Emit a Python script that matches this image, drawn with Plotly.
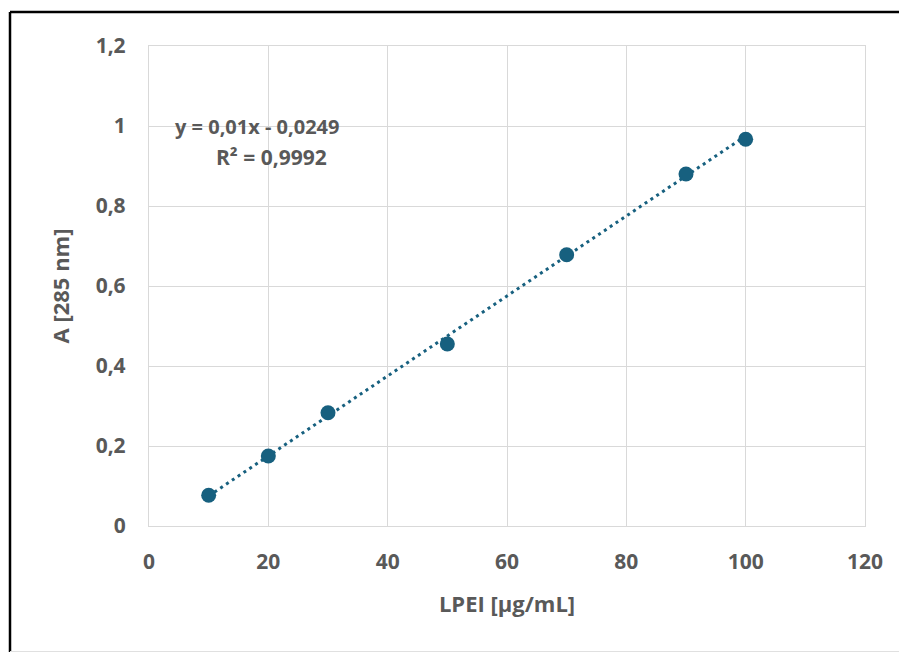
import plotly.graph_objects as go

conc = [10, 20, 30, 50, 70, 90, 100]
absorb = [0.077, 0.175, 0.283, 0.455, 0.678, 0.880, 0.967]
slope = 0.01
intercept = -0.0249
x_ticks = [0, 20, 40, 60, 80, 100, 120]
y_ticks = [0, 0.2, 0.4, 0.6, 0.8, 1.0, 1.2]
y_ticklabels = ["0", "0,2", "0,4", "0,6", "0,8", "1", "1,2"]

color = "#17607f"
gray = "#595959"
font = "Open Sans"

fit_x = [min(conc), max(conc)]
fit_y = [slope * v + intercept for v in fit_x]

fig = go.Figure()
fig.add_trace(go.Scatter(x=fit_x, y=fit_y, mode="lines",
                         line=dict(color=color, width=3, dash="3px,4px"),
                         hoverinfo="skip", showlegend=False))
fig.add_trace(go.Scatter(x=conc, y=absorb, mode="markers",
                         marker=dict(color=color, size=15),
                         showlegend=False))

axis_common = dict(showgrid=True, gridcolor="#d9d9d9", gridwidth=1.3,
                   showline=True, linecolor="#d9d9d9", linewidth=1.3, mirror=True,
                   zeroline=False, ticks="",
                   tickfont=dict(family=font, size=21, color=gray, weight="bold"))

fig.update_xaxes(range=[0, 120], tickvals=x_ticks,
                 ticktext=[str(v) for v in x_ticks], ticklabelstandoff=17,
                 title=dict(text="LPEI [µg/mL]", standoff=22,
                            font=dict(family=font, size=22, color=gray, weight="bold")),
                 **axis_common)
fig.update_yaxes(range=[0, 1.2], tickvals=y_ticks, ticktext=y_ticklabels,
                 ticklabelstandoff=18,
                 title=dict(text="A [285 nm]", standoff=19,
                            font=dict(family=font, size=22, color=gray, weight="bold")),
                 **axis_common)

# plot area in page pixels (reference): x 148..864, y 45..525
fig.add_annotation(xref="paper", yref="paper", x=(256 - 148) / 716, y=(525 - 126) / 480,
                   xanchor="center", yanchor="middle",
                   text="y = 0,01x - 0,0249", showarrow=False,
                   font=dict(family=font, size=20, color=gray, weight="bold"))
fig.add_annotation(xref="paper", yref="paper", x=(270 - 148) / 716, y=(525 - 156) / 480,
                   xanchor="center", yanchor="middle",
                   text="R² = 0,9992", showarrow=False,
                   font=dict(family=font, size=21, color=gray, weight="bold"))

# outer frame lines (top and left black, partially visible)
left = (9 - 148) / 716
top = (525 - 11) / 480
bottom = (525 - 651) / 480
fig.add_shape(type="line", xref="paper", yref="paper", x0=left, x1=1.2, y0=top, y1=top,
              line=dict(color="black", width=2.5))
fig.add_shape(type="line", xref="paper", yref="paper", x0=left, x1=left, y0=top, y1=bottom - 0.1,
              line=dict(color="black", width=2.5))
fig.add_shape(type="line", xref="paper", yref="paper", x0=left, x1=1.2, y0=bottom, y1=bottom,
              line=dict(color="#e0e0e0", width=2))

fig.update_layout(width=907, height=652,
                  margin=dict(l=141, r=50, t=38, b=134),
                  paper_bgcolor="white", plot_bgcolor="white",
                  font=dict(family=font))

fig.write_html("out.html")
